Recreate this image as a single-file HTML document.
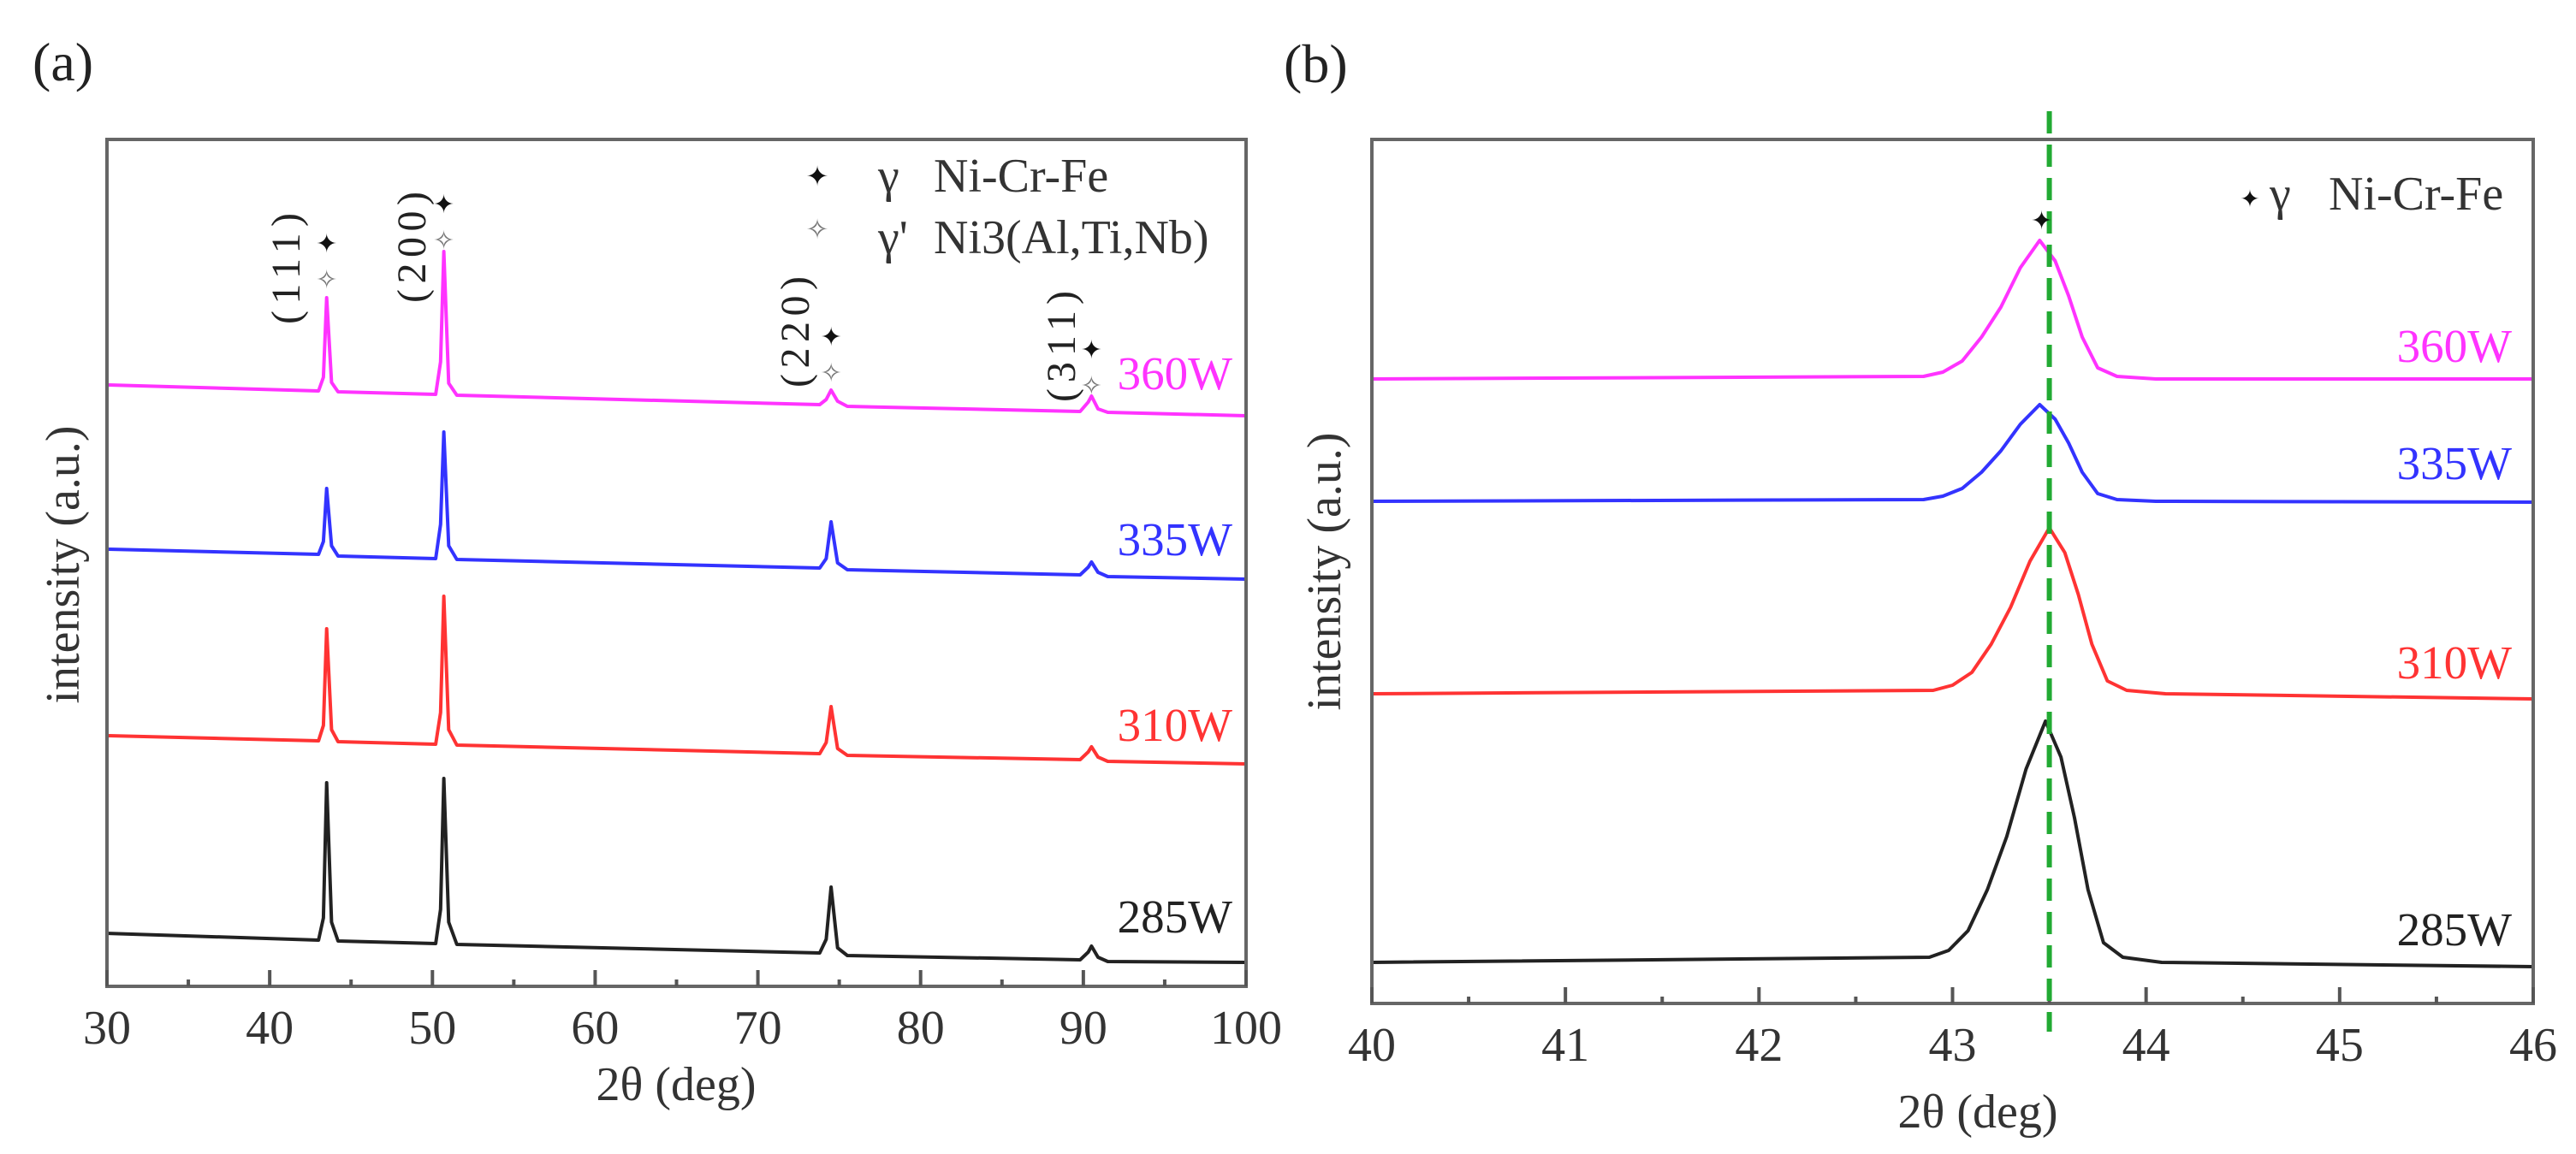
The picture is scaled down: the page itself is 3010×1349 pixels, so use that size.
<!DOCTYPE html>
<html><head><meta charset="utf-8"><style>
html,body{margin:0;padding:0;background:#fff;}
svg{display:block;font-family:"Liberation Serif",serif;}
</style></head><body>
<svg id="chart" width="3010" height="1349" viewBox="0 0 3010 1349" xmlns="http://www.w3.org/2000/svg">
<rect x="0" y="0" width="3010" height="1349" fill="#fff"/>
<g id="pa"></g>
<g id="pb"></g>
</svg>
<script>
// ---------- Panel (a) data ----------
const aX = [30,43.0,43.3,43.5,43.8,44.2,50.2,50.5,50.7,51.0,51.5,73.8,74.2,74.5,74.9,75.5,89.8,90.3,90.5,90.9,91.5,100];
const a360 = [703,696,712,805,706,695,692,730,859,705,691,680,686,697,684,678,672,683,690,675,671,667];
const a335 = [511,505,520,582,515,503,500,540,648,515,499,489,500,543,495,487,481,490,496,484,479,476];
const a310 = [293,287,305,418,300,286,283,320,456,300,282,272,285,327,278,270,265,274,280,268,263,260];
const a285 = [62,54,80,238,75,53,50,90,243,75,49,39,55,116,45,36,31,40,47,34,29,28];
const aSeriesNames = ["360W","335W","310W","285W"];
const aXTicks = [30,40,50,60,70,80,90,100];
const aLabelY = [698,504,287,63];
const peakLabels = ["(111)","(200)","(220)","(311)"];
const peakPos = [43.5,50.7,74.5,90.5];

// ---------- Panel (b) data ----------
const bX = [40,42.9,43.0,43.1,43.2,43.3,43.4,43.5,43.58,43.65,43.72,43.8,43.9,44.1,46];
const b360X = [40,42.85,42.95,43.05,43.15,43.25,43.35,43.45,43.53,43.6,43.67,43.75,43.85,44.05,46];
const b285X = [40,42.88,42.98,43.08,43.18,43.28,43.38,43.48,43.56,43.63,43.7,43.78,43.88,44.08,46];
const b360 = [730,733,738,751,779,814,860,892,868,827,779,743,733,730,730];
const b335 = [587,589,593,602,621,646,677,700,683,655,621,596,589,587,586];
const b310 = [362,366,372,387,420,463,517,556,527,478,420,377,366,362,356];
const b285 = [48,54,62,85,133,195,274,330,288,217,133,71,54,48,43];
const bXTicks = [40,41,42,43,44,45,46];
const bLabelY = [750,613,380,68];
const refLine = 43.5;

const colors = ["#ff33ff","#3333ff","#ff3333","#222222"];
const NS = "http://www.w3.org/2000/svg";
function mk(tag, attrs, parent, text){
  const e = document.createElementNS(NS, tag);
  for (const k in attrs) e.setAttribute(k, attrs[k]);
  if (text !== undefined) e.textContent = text;
  parent.appendChild(e);
  return e;
}

// ----- Panel A -----
const A = {l:125, r:1456, t:163, b:1153, x0:30, x1:100, y0:0, y1:990};
const ax = v => A.l + (v - A.x0) / (A.x1 - A.x0) * (A.r - A.l);
const ay = v => A.b - (v - A.y0) / (A.y1 - A.y0) * (A.b - A.t);
const pa = document.getElementById('pa');

let t = mk('text', {x:38, y:94, 'font-size':64, fill:'#222'}, pa, '(a)');



const aSeries = [a360, a335, a310, a285];
aSeries.forEach((ys, i) => {
  const d = ys.map((v, j) => (j ? 'L' : 'M') + ax(aX[j]).toFixed(1) + ' ' + ay(v).toFixed(1)).join(' ');
  const p = mk('path', {d: d, fill:'none', stroke: colors[i], 'stroke-width':4, 'stroke-linejoin':'round'}, pa);
  
  
  const lb = mk('text', {x:1440, y:ay(aLabelY[i]), 'font-size':55, fill: colors[i], 'text-anchor':'end'}, pa, aSeriesNames[i]);
  
  
});

let fr = mk('rect', {x:A.l, y:A.t, width:A.r - A.l, height:A.b - A.t, fill:'none', stroke:'#666', 'stroke-width':4}, pa);



for (let v = A.x0; v <= A.x1; v += 5) {
  const major = (v % 10 === 0);
  const tk = mk('line', {x1:ax(v), x2:ax(v), y1:A.b, y2:A.b - (major ? 19 : 8), stroke:'#555', 'stroke-width':4}, pa);
  
  
}
aXTicks.forEach(v => {
  const tl = mk('text', {x:ax(v), y:1220, 'font-size':56, 'text-anchor':'middle', fill:'#333'}, pa, String(v));
  
  
});
t = mk('text', {x:790, y:1286, 'font-size':56, 'text-anchor':'middle', fill:'#333'}, pa, '2θ (deg)');


t = mk('text', {x:0, y:0, 'font-size':56, 'text-anchor':'middle', fill:'#333', transform:'translate(92,660) rotate(-90)'}, pa, 'intensity (a.u.)');



const labelCx = [333,480,928,1239];
const labelCy = [314,289,388,405];
const markTop = [285,239,394,409];
peakLabels.forEach((s, i) => {
  const cx = ax(peakPos[i]);
  const pl = mk('text', {x:0, y:0, 'font-size':48, 'text-anchor':'middle', fill:'#222', textLength:130, lengthAdjust:'spacing', transform:'translate(' + (labelCx[i] + 17) + ',' + labelCy[i] + ') rotate(-90)'}, pa, s);
  
  
  const m1 = mk('text', {x:cx, y:markTop[i] + 10, 'font-size':30, 'text-anchor':'middle', fill:'#111'}, pa, '✦');
  
  
  const m2 = mk('text', {x:cx, y:markTop[i] + 52, 'font-size':30, 'text-anchor':'middle', fill:'#777'}, pa, '✧');
  
  
});

let lg = mk('g', {}, pa);


t = mk('text', {x:955, y:217, 'font-size':32, 'text-anchor':'middle', fill:'#111'}, lg, '✦');


t = mk('text', {x:1026, y:224, 'font-size':56, fill:'#333'}, lg, 'γ');


t = mk('text', {x:1091, y:224, 'font-size':56, fill:'#333'}, lg, 'Ni-Cr-Fe');


t = mk('text', {x:955, y:279, 'font-size':32, 'text-anchor':'middle', fill:'#777'}, lg, '✧');


t = mk('text', {x:1026, y:296, 'font-size':56, fill:'#333'}, lg, 'γ\'');


t = mk('text', {x:1091, y:296, 'font-size':56, fill:'#333'}, lg, 'Ni3(Al,Ti,Nb)');



// ----- Panel B -----
const B = {l:1603, r:2960, t:163, b:1173, x0:40, x1:46, y0:0, y1:1010};
const bx = v => B.l + (v - B.x0) / (B.x1 - B.x0) * (B.r - B.l);
const by = v => B.b - (v - B.y0) / (B.y1 - B.y0) * (B.b - B.t);
const pb = document.getElementById('pb');

t = mk('text', {x:1500, y:96, 'font-size':64, fill:'#222'}, pb, '(b)');



const bSeries = [b360, b335, b310, b285];
const bXs = [b360X, b360X, bX, b285X];
bSeries.forEach((ys, i) => {
  const xs = bXs[i];
  const d = ys.map((v, j) => (j ? 'L' : 'M') + bx(xs[j]).toFixed(1) + ' ' + by(v).toFixed(1)).join(' ');
  const p = mk('path', {d: d, fill:'none', stroke: colors[i], 'stroke-width':4, 'stroke-linejoin':'round'}, pb);
  
  
  const lb = mk('text', {x:2935, y:by(bLabelY[i]), 'font-size':55, fill: colors[i], 'text-anchor':'end'}, pb, aSeriesNames[i]);
  
  
});

fr = mk('rect', {x:B.l, y:B.t, width:B.r - B.l, height:B.b - B.t, fill:'none', stroke:'#666', 'stroke-width':4}, pb);



for (let k = 0; k <= 12; k++) {
  const v = B.x0 + k * 0.5;
  const major = (k % 2 === 0);
  const tk = mk('line', {x1:bx(v), x2:bx(v), y1:B.b, y2:B.b - (major ? 19 : 8), stroke:'#555', 'stroke-width':4}, pb);
  
  
}
bXTicks.forEach(v => {
  const tl = mk('text', {x:bx(v), y:1240, 'font-size':56, 'text-anchor':'middle', fill:'#333'}, pb, String(v));
  
  
});
t = mk('text', {x:2311, y:1318, 'font-size':56, 'text-anchor':'middle', fill:'#333'}, pb, '2θ (deg)');


t = mk('text', {x:0, y:0, 'font-size':56, 'text-anchor':'middle', fill:'#333', transform:'translate(1566,668) rotate(-90)'}, pb, 'intensity (a.u.)');



const rl = mk('line', {x1:bx(refLine), x2:bx(refLine), y1:130, y2:1206, stroke:'#22aa33', 'stroke-width':6, 'stroke-dasharray':'26 13'}, pb);



t = mk('text', {x:bx(43.46), y:268, 'font-size':30, 'text-anchor':'middle', fill:'#111'}, pb, '✦');


lg = mk('g', {}, pb);


t = mk('text', {x:2629, y:242, 'font-size':28, 'text-anchor':'middle', fill:'#111'}, lg, '✦');


t = mk('text', {x:2652, y:245, 'font-size':56, fill:'#333'}, lg, 'γ');


t = mk('text', {x:2721, y:245, 'font-size':56, fill:'#333'}, lg, 'Ni-Cr-Fe');


</script>
</body></html>
